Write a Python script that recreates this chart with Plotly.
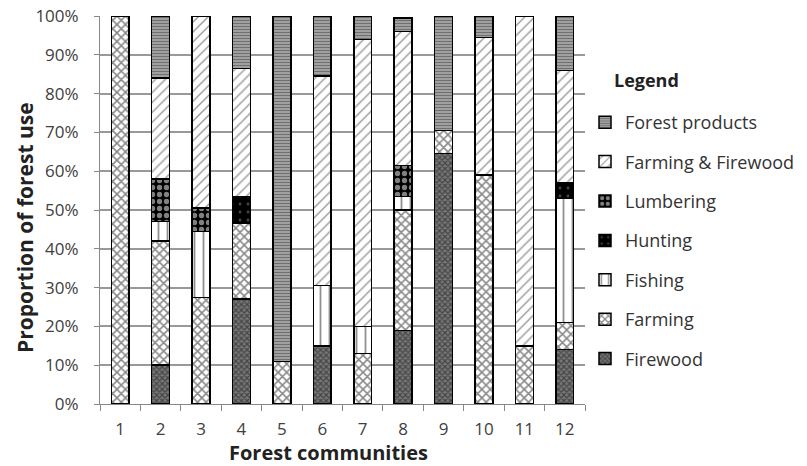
import plotly.graph_objects as go

communities = ["1", "2", "3", "4", "5", "6", "7", "8", "9", "10", "11", "12"]
firewood = [0, 10, 0, 27, 0, 15, 0, 19, 64.5, 0, 0, 14]
farming = [100, 32, 27.5, 19.5, 11, 0, 13, 31, 6, 59, 15, 7]
fishing = [0, 5, 17, 0, 0, 15.5, 7, 3.5, 0, 0, 0, 32]
hunting = [0, 0, 0, 7, 0, 0, 0, 0, 0, 0, 0, 4]
lumbering = [0, 11, 6, 0, 0, 0, 0, 8, 0, 0, 0, 0]
farming_firewood = [0, 26, 49.5, 33, 0, 54, 74, 34.5, 0, 35.5, 85, 29]
forest_products = [0, 16, 0, 13.5, 89, 15.5, 6, 3.5, 29.5, 5.5, 0, 14]
tick_vals = [0, 10, 20, 30, 40, 50, 60, 70, 80, 90, 100]
tick_text = ["0%", "10%", "20%", "30%", "40%", "50%", "60%", "70%", "80%", "90%", "100%"]

series = [
    ("Firewood", firewood, dict(shape="x", fgcolor="#111111", bgcolor="#777777", size=4, solidity=0.5)),
    ("Farming", farming, dict(shape="x", fgcolor="#111111", bgcolor="white", size=6, solidity=0.45)),
    ("Fishing", fishing, dict(shape="|", fgcolor="#222222", bgcolor="white", size=9, solidity=0.2)),
    ("Hunting", hunting, dict(shape=".", fgcolor="#888888", bgcolor="black", size=8, solidity=0.1)),
    ("Lumbering", lumbering, dict(shape=".", fgcolor="white", bgcolor="black", size=7, solidity=0.45)),
    ("Farming & Firewood", farming_firewood, dict(shape="/", fgcolor="#333333", bgcolor="white", size=7, solidity=0.2)),
    ("Forest products", forest_products, dict(shape="-", fgcolor="#333333", bgcolor="#aaaaaa", size=3, solidity=0.45)),
]

fig = go.Figure()
n = len(series)
for i, (name, vals, pat) in enumerate(series):
    fig.add_trace(go.Bar(
        x=communities, y=vals, name=name, legendgroup=name, legendrank=100 * (n - i),
        marker=dict(color="white", pattern=pat, line=dict(color="black", width=1.5)),
        width=0.44,
    ))

W, H = 807, 466
L, T, R, B = 100, 16, 222, 62
pw, ph = W - L - R, H - T - B


def px_x(x):
    return (x - L) / pw


def px_y(y):
    return (H - B - y) / ph


fig.update_layout(
    width=W, height=H,
    barmode="stack",
    plot_bgcolor="white", paper_bgcolor="white",
    margin=dict(l=L, r=R, t=T, b=B, autoexpand=False),
    font=dict(family="Open Sans, DejaVu Sans, sans-serif", color="#404040"),
    legend=dict(
        x=1.0, y=px_y(104),
        xanchor="left", yanchor="top",
        traceorder="grouped", tracegroupgap=13,
        font=dict(size=18, color="#333333"),
        itemwidth=30,
    ),
    xaxis=dict(
        type="category", tickson="boundaries", ticks="outside", ticklen=6,
        tickcolor="#888888", showline=True, linecolor="#888888", linewidth=1,
        tickfont=dict(size=17, color="#404040"), automargin=False, ticklabelstandoff=10,
    ),
    yaxis=dict(
        range=[0, 100], tickvals=tick_vals, ticktext=tick_text,
        ticks="outside", ticklen=5, tickcolor="#888888",
        showgrid=True, gridcolor="#999999", gridwidth=1.5,
        showline=True, linecolor="#888888", linewidth=1,
        tickfont=dict(size=17, color="#404040"), zeroline=False, automargin=False,
        ticklabelstandoff=12, ticklabeloverflow="allow",
    ),
    annotations=[
        dict(text="<b>Proportion of forest use</b>", textangle=-90, showarrow=False,
             xref="paper", yref="paper", x=px_x(25), y=px_y(228),
             xanchor="center", yanchor="middle", font=dict(size=21, color="#222222")),
        dict(text="<b>Forest communities</b>", showarrow=False,
             xref="paper", yref="paper", x=px_x(328), y=px_y(452),
             xanchor="center", yanchor="middle", font=dict(size=20, color="#222222")),
        dict(text="<b>Legend</b>", showarrow=False,
             xref="paper", yref="paper", x=px_x(612), y=px_y(80),
             xanchor="left", yanchor="middle", font=dict(size=18, color="#222222")),
    ],
)

fig.write_html("out.html", config={"displayModeBar": False},
               post_script="document.body.style.margin='0';")
